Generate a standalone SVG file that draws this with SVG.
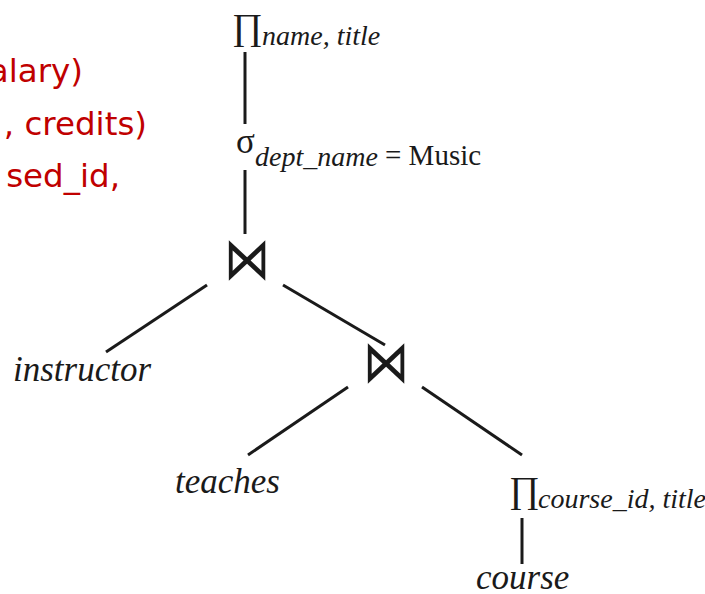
<svg xmlns="http://www.w3.org/2000/svg" width="705" height="594" viewBox="0 0 705 594">
<style>
.red{font-family:"DejaVu Sans","Verdana",sans-serif;font-size:32.5px;fill:#c00000;text-anchor:end}
.ser{font-family:"Liberation Serif","Times New Roman",serif;fill:#1a1a1a}
.leaf{font-size:35px;font-style:italic}
.sub{font-size:28px;font-style:italic}
.pi{font-size:37px}
.join{font-family:"DejaVu Sans",sans-serif;font-size:46px;fill:#1a1a1a;text-anchor:middle}
.edge{stroke:#1a1a1a;stroke-width:3;fill:none}
</style>
<rect width="705" height="594" fill="#ffffff"/>
<g id="slide-text">
<text class="red" x="83" y="82">alary)</text>
<text class="red" x="147" y="135">, credits)</text>
<text class="red" x="120" y="187">sed_id,</text>
</g>
<g id="connectors">
<line class="edge" x1="245" y1="52" x2="245" y2="124"/>
<line class="edge" x1="245" y1="170" x2="245" y2="234"/>
<line class="edge" x1="207" y1="285" x2="106" y2="352"/>
<line class="edge" x1="283" y1="285" x2="385" y2="345"/>
<line class="edge" x1="348" y1="387" x2="248" y2="455"/>
<line class="edge" x1="422" y1="387" x2="522" y2="455"/>
<line class="edge" x1="522" y1="518" x2="522" y2="564"/>
</g>
<g id="proj-top" class="ser">
<text class="pi" x="232" y="39">∏</text>
<text class="sub" x="262" y="45">name, title</text>
</g>
<g id="select" class="ser">
<text x="236" y="153" font-size="35">σ</text>
<text class="sub" x="255" y="166">dept_name</text>
<text x="385" y="165" font-size="29">= Music</text>
</g>
<g id="join1">
<text class="join" transform="translate(247,279) scale(1,1.28)">⋈</text>
</g>
<g id="instructor" class="ser">
<text class="leaf" x="13" y="381">instructor</text>
</g>
<g id="join2">
<text class="join" transform="translate(386,382) scale(1,1.28)">⋈</text>
</g>
<g id="teaches" class="ser">
<text class="leaf" x="175" y="493">teaches</text>
</g>
<g id="proj-course" class="ser">
<text class="pi" x="509" y="502">∏</text>
<text class="sub" x="538" y="508" font-size="25.8">course_id, title</text>
</g>
<g id="course" class="ser">
<text class="leaf" x="476" y="589">course</text>
</g>
</svg>
